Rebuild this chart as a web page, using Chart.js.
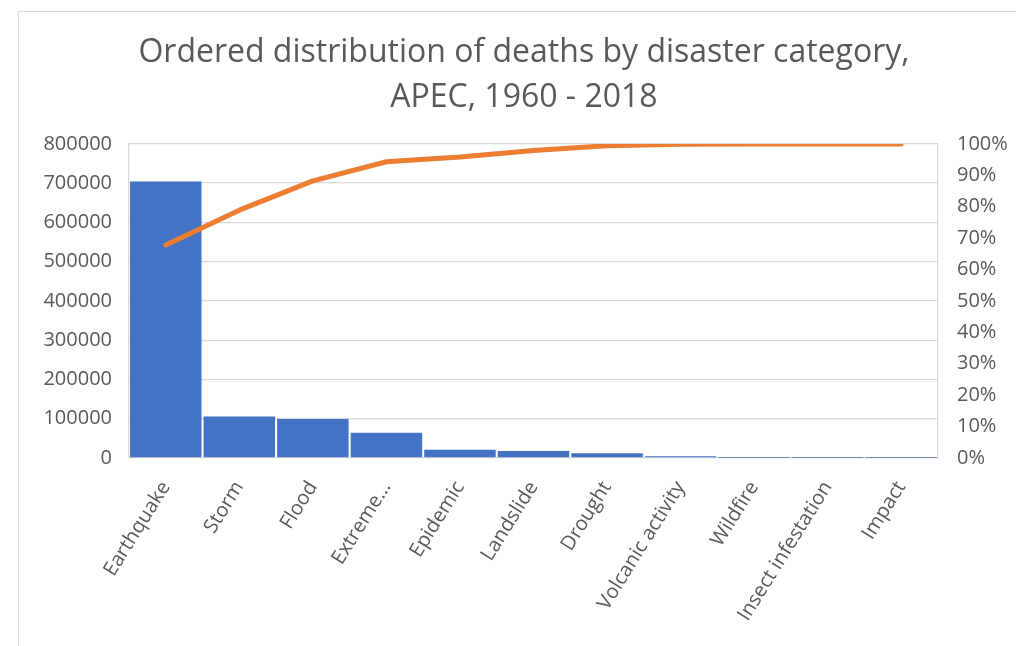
<!DOCTYPE html>
<html>
<head>
<meta charset="utf-8">
<script src="https://cdn.jsdelivr.net/npm/chart.js@4/dist/chart.umd.min.js"></script>
<style>
  html, body { margin: 0; padding: 0; background: #fff; }
  #wrap { position: relative; width: 1016px; height: 646px; overflow: hidden; }
  #frame { position: absolute; left: 18px; top: 11px; width: 1100px; height: 700px;
           border-top: 1.5px solid #d9d9d9; border-left: 1.5px solid #d9d9d9; }
  canvas { position: absolute; left: 0; top: 0; }
</style>
</head>
<body>
<div id="wrap">
  <div id="frame"></div>
  <canvas id="c" width="1016" height="646"></canvas>
</div>
<script>
// Disaster categories, ordered by total deaths
const categories = ["Earthquake", "Storm", "Flood", "Extreme...", "Epidemic", "Landslide",
                    "Drought", "Volcanic activity", "Wildfire", "Insect infestation", "Impact"];
// Deaths per category, APEC 1960-2018
const deaths = [704000, 106000, 99500, 64000, 21000, 17800, 12000, 4500, 200, 30, 2];
// Cumulative share of deaths (%)
const cumulativePct = [67.8, 78.9, 88.2, 94.3, 95.8, 97.9, 99.4, 99.9, 100, 100, 100];
// Axis ticks
const leftTicks = [0, 100000, 200000, 300000, 400000, 500000, 600000, 700000, 800000];
const rightTicks = [0, 10, 20, 30, 40, 50, 60, 70, 80, 90, 100];

const FONT = "'Open Sans', 'Liberation Sans', sans-serif";
const TEXT = '#595959';
const GRID = '#d9d9d9';

new Chart(document.getElementById('c'), {
  data: {
    labels: categories,
    datasets: [
      {
        type: 'line',
        data: cumulativePct,
        yAxisID: 'y1',
        borderColor: '#ED7D31',
        borderWidth: 5,
        borderCapStyle: 'round',
        borderJoinStyle: 'round',
        pointRadius: 0,
        tension: 0,
        order: 0
      },
      {
        type: 'bar',
        data: deaths,
        yAxisID: 'y',
        backgroundColor: '#4472C4',
        barPercentage: 1,
        categoryPercentage: 0.972,
        order: 1
      }
    ]
  },
  options: {
    responsive: false,
    animation: false,
    layout: { padding: { left: 32, right: 0, top: 0, bottom: 0 } },
    plugins: {
      legend: { display: false },
      tooltip: { enabled: false },
      title: {
        display: true,
        text: ['Ordered distribution of deaths by disaster category,', 'APEC, 1960 - 2018'],
        color: TEXT,
        font: { family: FONT, size: 32, weight: 'normal', lineHeight: 1.42 },
        padding: { top: 30, bottom: 23 }
      }
    },
    scales: {
      x: {
        grid: { display: false },
        border: { display: false },
        ticks: {
          color: TEXT,
          font: { family: FONT, size: 20 },
          minRotation: 58,
          maxRotation: 58,
          autoSkip: false,
          padding: 11
        },
        afterFit: s => { s.height = 188; }
      },
      y: {
        position: 'left',
        min: 0,
        max: 800000,
        afterBuildTicks: s => { s.ticks = leftTicks.map(v => ({ value: v })); },
        ticks: {
          color: TEXT,
          font: { family: FONT, size: 20 },
          padding: 17,
          callback: v => String(v)
        },
        grid: { color: GRID, lineWidth: 1.3, drawTicks: false },
        border: { display: true, color: GRID, width: 1.3 },
        afterFit: s => { s.width = 97; }
      },
      y1: {
        position: 'right',
        min: 0,
        max: 100,
        afterBuildTicks: s => { s.ticks = rightTicks.map(v => ({ value: v })); },
        ticks: {
          color: TEXT,
          font: { family: FONT, size: 20 },
          padding: 19,
          callback: v => v + '%'
        },
        grid: { display: false, drawTicks: false },
        border: { display: true, color: GRID, width: 1.3 },
        afterFit: s => { s.width = 78; }
      }
    }
  }
});
</script>
</body>
</html>
